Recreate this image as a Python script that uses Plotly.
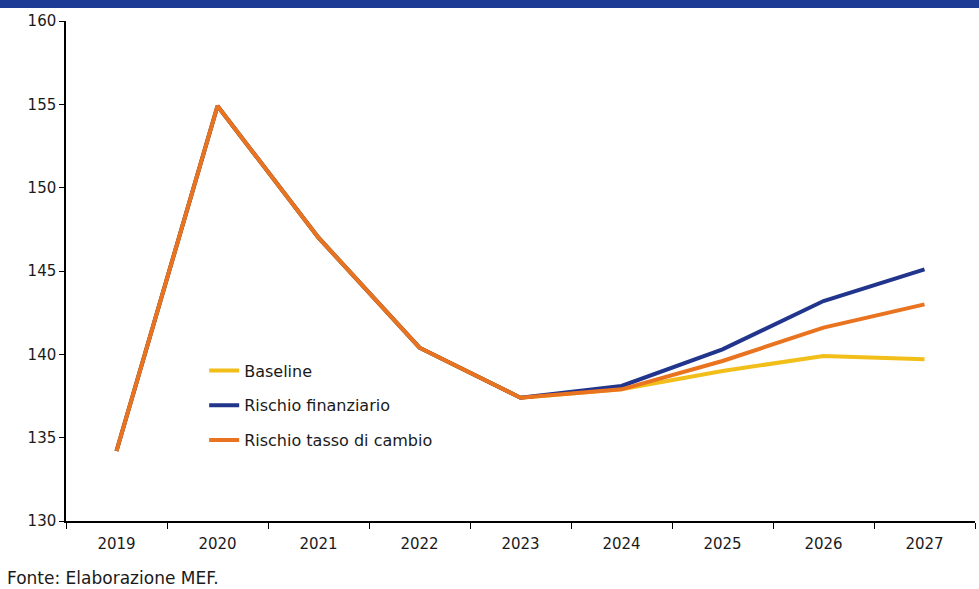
import plotly.graph_objects as go

years = ["2019", "2020", "2021", "2022", "2023", "2024", "2025", "2026", "2027"]
baseline = [134.2, 154.9, 147.0, 140.4, 137.4, 137.9, 139.0, 139.9, 139.7]
rischio_finanziario = [134.2, 154.9, 147.0, 140.4, 137.4, 138.1, 140.3, 143.2, 145.1]
rischio_cambio = [134.2, 154.9, 147.0, 140.4, 137.4, 137.9, 139.6, 141.6, 143.0]
y_ticks = [130, 135, 140, 145, 150, 155, 160]

FONT = "DejaVu Sans"
TXT = "#1a1a1a"

fig = go.Figure()
series = [
    ("Baseline", baseline, "#F2BE1A"),
    ("Rischio finanziario", rischio_finanziario, "#22358C"),
    ("Rischio tasso di cambio", rischio_cambio, "#E9731F"),
]
for i, (name, vals, col) in enumerate(series):
    fig.add_trace(go.Scatter(
        x=years, y=vals, mode="lines", name=name,
        line=dict(color=col, width=4), legendgroup=f"g{i}",
    ))

fig.update_layout(
    width=979, height=589,
    margin=dict(l=66, r=4, t=21, b=68),
    paper_bgcolor="white", plot_bgcolor="white",
    font=dict(family=FONT, size=15, color=TXT),
    showlegend=True,
    legend=dict(
        x=0.152, y=0.335, xanchor="left", yanchor="top",
        bgcolor="rgba(0,0,0,0)", traceorder="grouped", tracegroupgap=11,
        font=dict(family=FONT, size=16, color=TXT),
    ),
    xaxis=dict(
        type="category", range=[-0.5, 8.5], tickson="boundaries",
        ticks="outside", ticklen=6, tickcolor="#000000", tickwidth=1,
        showline=True, linecolor="#000000", linewidth=1.5,
        showgrid=False, zeroline=False, ticklabelstandoff=8,
        tickfont=dict(family=FONT, size=15, color=TXT),
    ),
    yaxis=dict(
        range=[130, 160], tickvals=y_ticks,
        ticks="outside", ticklen=5, tickcolor="#000000", tickwidth=1,
        showline=True, linecolor="#000000", linewidth=1.5,
        showgrid=False, zeroline=False,
        tickfont=dict(family=FONT, size=15, color=TXT),
    ),
    shapes=[dict(
        type="rect", xref="paper", yref="paper",
        x0=-66 / 909, x1=1 + 4 / 909, y0=1 + 13 / 500, y1=1 + 21 / 500,
        fillcolor="#1D3A94", line=dict(width=0), layer="above",
    )],
    annotations=[dict(
        text="Fonte: Elaborazione MEF.", xref="paper", yref="paper",
        x=(5 - 66) / 909, y=(521 - 578) / 500, xanchor="left", yanchor="middle",
        showarrow=False, font=dict(family=FONT, size=17, color=TXT),
    )],
)

fig.write_html(
    "out.html",
    config={"displayModeBar": False},
    post_script="document.body.style.margin='0';document.body.style.overflow='hidden';",
)
